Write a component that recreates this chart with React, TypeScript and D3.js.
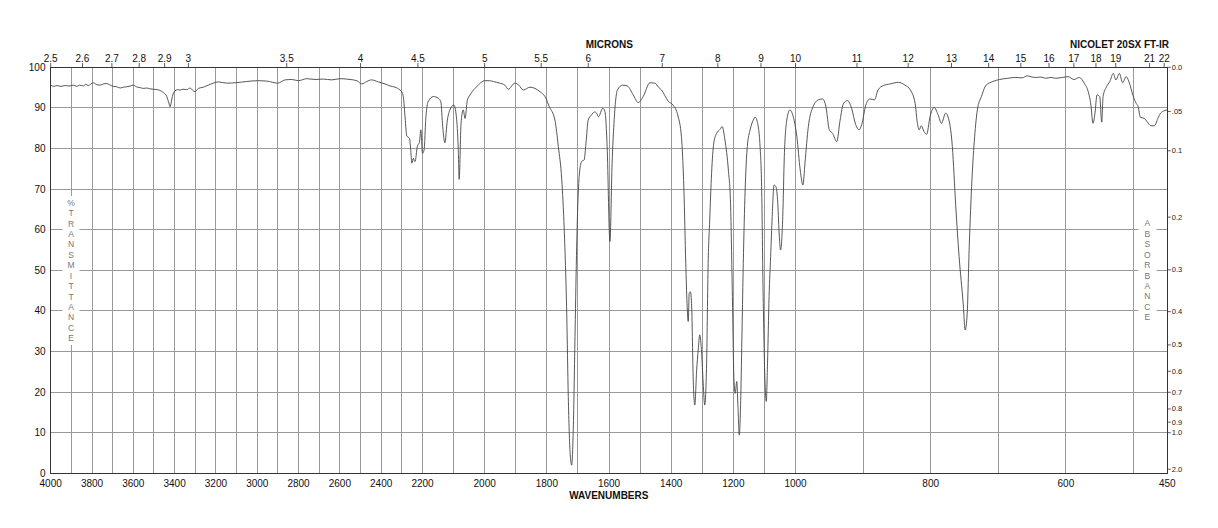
import React from "react";
import * as d3 from "d3";

// ---- Data ----
const wavenumbers: number[] = [
  4000, 3985, 3970, 3950, 3930, 3910, 3890, 3874, 3860, 3842, 3830, 3818, 3805, 3794, 3780, 3761, 3745, 3729, 3715, 3697,
  3680, 3664, 3648, 3632, 3615, 3600, 3585, 3568, 3550, 3535, 3520, 3503, 3485, 3471, 3455, 3438, 3428, 3422, 3416, 3411,
  3398, 3385, 3374, 3360, 3341, 3325, 3310, 3301, 3285, 3261, 3237, 3213, 3188, 3148, 3103, 3051, 3000, 2954, 2901, 2865,
  2833, 2801, 2760, 2720, 2680, 2639, 2599, 2551, 2518, 2494, 2470, 2446, 2414, 2381, 2357, 2333, 2309, 2297, 2293, 2284,
  2276, 2263, 2256, 2252, 2244, 2240, 2236, 2225, 2215, 2208, 2200, 2195, 2189, 2182, 2165, 2149, 2141, 2135, 2128, 2120,
  2112, 2099, 2091, 2085, 2082, 2076, 2069, 2063, 2056, 2047, 2026, 1999, 1985, 1972, 1952, 1935, 1924, 1903, 1890, 1876,
  1854, 1822, 1806, 1792, 1774, 1763, 1752, 1744, 1736, 1731, 1725, 1720, 1715, 1709, 1704, 1696, 1688, 1680, 1674, 1667,
  1656, 1646, 1640, 1634, 1620, 1613, 1606, 1597, 1590, 1584, 1573, 1556, 1541, 1522, 1506, 1490, 1468, 1452, 1441, 1431,
  1420, 1410, 1394, 1378, 1367, 1359, 1353, 1349, 1345, 1342, 1338, 1334, 1329, 1324, 1318, 1313, 1308, 1302, 1297, 1292,
  1286, 1281, 1276, 1270, 1263, 1254, 1243, 1236, 1227, 1216, 1209, 1203, 1198, 1194, 1189, 1185, 1181, 1176, 1172, 1168,
  1162, 1155, 1146, 1136, 1130, 1123, 1114, 1109, 1104, 1098, 1094, 1090, 1085, 1080, 1075, 1069, 1063, 1057, 1052, 1048,
  1041, 1036, 1028, 1018, 1009, 998, 993, 989, 986, 981, 974, 966, 960, 955, 950, 945, 939, 934, 929, 923,
  917, 911, 906, 902, 896, 890, 883, 878, 870, 860, 848, 838, 830, 823, 820, 817, 814, 810, 806, 801,
  795, 789, 784, 778, 773, 768, 763, 758, 752, 749, 746, 743, 739, 735, 731, 725, 718, 708, 698, 686,
  674, 665, 657, 650, 644, 637, 630, 622, 615, 605, 597, 588, 580, 573, 567, 563, 560, 557, 554, 550,
  547, 545, 540, 535, 530, 526, 521, 516, 511, 506, 501, 496, 493, 490, 484, 480, 474, 469, 464, 460,
  457, 450,
];
const transmittance: number[] = [
  95.6, 95.3, 95.5, 95.3, 95.5, 95.4, 95.6, 95.3, 95.6, 95.4, 95.8, 95.5, 95.9, 96.2, 95.8, 95.6, 95.9, 96.0, 95.7, 95.3,
  95.2, 94.9, 95.1, 95.2, 95.4, 95.6, 95.2, 95.0, 94.8, 94.9, 94.7, 94.6, 94.5, 94.3, 93.8, 92.8, 91.2, 90.3, 91.5, 92.8,
  94.2, 94.5, 94.4, 94.6, 94.5, 94.9, 94.2, 94.0, 94.8, 95.1, 95.6, 96.1, 96.4, 96.1, 96.2, 96.5, 96.7, 96.6, 96.1, 96.9,
  97.0, 96.7, 97.2, 97.0, 97.1, 96.9, 97.2, 97.0, 96.7, 95.9, 96.5, 96.9, 96.4, 95.9, 95.4, 95.1, 94.4, 93.6, 92.8, 87.5,
  83.1, 82.5, 79.0, 76.4, 77.6, 77.0, 76.8, 80.5, 81.5, 84.6, 78.8, 79.6, 87.8, 91.5, 92.8, 92.4, 91.5, 85.4, 81.4, 87.0,
  89.5, 90.7, 87.8, 80.0, 72.4, 86.2, 89.5, 87.4, 91.8, 93.2, 95.2, 96.7, 96.7, 96.5, 96.1, 95.6, 94.6, 96.1, 95.6, 94.4,
  95.1, 94.0, 92.8, 90.3, 87.0, 80.5, 72.3, 60.0, 39.4, 18.9, 4.9, 2.0, 10.7, 35.3, 55.8, 73.1, 76.8, 77.2, 81.3, 87.0,
  88.3, 89.0, 88.7, 87.8, 89.9, 89.1, 80.5, 57.1, 76.4, 86.2, 94.4, 95.6, 95.4, 93.2, 91.3, 92.8, 96.2, 96.1, 95.1, 94.4,
  93.0, 91.7, 90.7, 88.0, 82.9, 69.8, 51.7, 41.9, 37.4, 44.3, 44.7, 41.0, 23.0, 16.8, 25.4, 30.4, 34.1, 29.6, 22.2, 16.8,
  27.1, 51.7, 62.4, 73.9, 81.3, 83.7, 84.7, 85.4, 82.1, 74.7, 66.5, 43.5, 23.0, 19.7, 22.6, 16.4, 9.4, 18.9, 35.3, 51.7,
  69.8, 80.5, 84.6, 87.0, 87.7, 86.6, 80.5, 70.6, 43.5, 22.2, 17.7, 27.1, 43.5, 53.4, 63.2, 71.0, 70.6, 66.5, 58.3, 55.0,
  63.2, 78.0, 87.0, 89.5, 88.3, 82.9, 74.7, 71.0, 76.4, 85.4, 90.3, 92.0, 92.2, 90.3, 84.6, 83.7, 81.7, 87.0, 91.1, 91.8,
  89.9, 85.9, 84.6, 85.9, 90.7, 92.2, 92.0, 94.4, 95.5, 95.9, 96.3, 95.6, 94.4, 91.1, 86.6, 84.6, 85.6, 84.2, 83.5, 87.8,
  90.1, 88.3, 86.2, 88.7, 87.0, 80.5, 66.0, 53.4, 41.9, 35.3, 39.4, 55.8, 72.3, 82.9, 89.5, 92.8, 95.6, 96.5, 97.0, 97.3,
  97.5, 97.4, 97.9, 97.6, 97.5, 97.6, 97.3, 97.5, 97.3, 97.5, 97.7, 97.0, 97.5, 96.1, 94.0, 90.7, 86.2, 88.7, 93.2, 92.8,
  86.5, 92.8, 95.2, 96.5, 98.5, 96.9, 98.5, 96.2, 97.7, 96.1, 93.2, 91.1, 90.3, 87.7, 87.4, 86.6, 85.6, 85.6, 87.4, 88.7,
  89.1, 89.5,
];

const yTicks: number[] = [0, 10, 20, 30, 40, 50, 60, 70, 80, 90, 100];
const wnLabels: number[] = [4000, 3800, 3600, 3400, 3200, 3000, 2800, 2600, 2400, 2200, 2000, 1800, 1600, 1400, 1200, 1000, 800, 600, 450];
const wnGrid: number[] = [
  3900, 3800, 3700, 3600, 3500, 3400, 3300, 3200, 3100, 3000, 2900, 2800, 2700, 2600, 2500, 2400, 2300, 2200,
  2100, 2000, 1900, 1800, 1700, 1600, 1500, 1400, 1300, 1200, 1100, 1000, 900, 800, 700, 600, 500,
];
const microns: number[] = [2.5, 2.6, 2.7, 2.8, 2.9, 3, 3.5, 4, 4.5, 5, 5.5, 6, 7, 8, 9, 10, 11, 12, 13, 14, 15, 16, 17, 18, 19, 21, 22];
const absTicks: number[] = [0, 0.05, 0.1, 0.2, 0.3, 0.4, 0.5, 0.6, 0.7, 0.8, 0.9, 1.0, 2.0];
const absLabels: string[] = ["0.0", ".05", "0.1", "0.2", "0.3", "0.4", "0.5", "0.6", "0.7", "0.8", "0.9", "1.0", "2.0"];
const leftTitle = "%TRANSMITTANCE";
const rightTitle = "ABSORBANCE";

export default function App() {
  const W = 1218, H = 528;
  const L = 50.7, R = 1167.3, T = 67.3, B = 473.3;
  const x = d3.scaleLinear().domain([4000, 2200, 1000, 450]).range([L, 422.5, 795.5, R]);
  const y = d3.scaleLinear().domain([0, 100]).range([B, T]);
  const pts: [number, number][] = wavenumbers.map((w, i) => [w, transmittance[i]]);
  const line = d3.line<[number, number]>().x((d) => x(d[0])).y((d) => y(d[1])).curve(d3.curveMonotoneX);
  const font = "'Liberation Sans', Arial, Helvetica, sans-serif";
  const gridColor = "#9a9a9a";
  const axisColor = "#333";
  const leftX = 71, rightX = 1147.3;
  return (
    <svg width={W} height={H} style={{ position: "absolute", left: 0, top: 0, background: "#fff" }} fontFamily={font}>
      <rect x={0} y={0} width={W} height={H} fill="#fff" />
      {/* grid */}
      <g shapeRendering="crispEdges" stroke={gridColor} strokeWidth={1}>
        {yTicks.filter((t) => t > 0 && t < 100).map((t) => (
          <line key={"h" + t} x1={L} x2={R} y1={y(t)} y2={y(t)} />
        ))}
        {wnGrid.map((w) => (
          <line key={"v" + w} x1={x(w)} x2={x(w)} y1={T} y2={B} />
        ))}
      </g>
      {/* label backgrounds */}
      <rect x={62.5} y={196} width={17} height={149} fill="#fff" />
      <rect x={1138.5} y={216} width={18} height={108} fill="#fff" />
      {leftTitle.split("").map((c, i) => (
        <text key={"lt" + i} x={leftX} y={202.7 + i * 10.43} fontSize={8.5} fill="#777" textAnchor="middle" dominantBaseline="central">
          {c}
        </text>
      ))}
      {rightTitle.split("").map((c, i) => (
        <text key={"rt" + i} x={rightX} y={223.3 + i * 10.44} fontSize={8.5} fill="#777" textAnchor="middle" dominantBaseline="central">
          {c}
        </text>
      ))}
      {/* spectrum */}
      <path d={line(pts) || ""} fill="none" stroke="#444" strokeWidth={0.9} strokeLinejoin="round" />
      {/* frame */}
      <rect x={L} y={T} width={R - L} height={B - T} fill="none" stroke={axisColor} strokeWidth={1} shapeRendering="crispEdges" />
      {/* left labels */}
      {yTicks.map((t) => (
        <text key={"yl" + t} x={45.5} y={y(t)} fontSize={10} fill="#111" textAnchor="end" dominantBaseline="central">
          {t}
        </text>
      ))}
      {/* bottom labels */}
      {wnLabels.map((w) => (
        <text key={"xl" + w} x={x(w)} y={487} fontSize={10} fill="#111" textAnchor="middle">
          {w}
        </text>
      ))}
      {/* top micron ticks */}
      {microns.map((m) => (
        <g key={"m" + m}>
          <line x1={x(10000 / m)} x2={x(10000 / m)} y1={63} y2={T} stroke={axisColor} strokeWidth={0.8} />
          <text x={x(10000 / m)} y={61.5} fontSize={10} fill="#111" textAnchor="middle">
            {m}
          </text>
        </g>
      ))}
      {/* right absorbance ticks */}
      {absTicks.map((a, i) => {
        const yy = y(100 * Math.pow(10, -a));
        return (
          <g key={"a" + a}>
            <line x1={R} x2={R + 3.5} y1={yy} y2={yy} stroke={axisColor} strokeWidth={0.8} />
            <text x={R + 4.5} y={yy} fontSize={7.5} fill="#222" dominantBaseline="central">
              {absLabels[i]}
            </text>
          </g>
        );
      })}
      {/* titles */}
      <text x={609.3} y={48} fontSize={10} fontWeight="bold" textAnchor="middle" fill="#111">MICRONS</text>
      <text x={1169} y={48.3} fontSize={10} fontWeight="bold" textAnchor="end" fill="#111">NICOLET 20SX FT-IR</text>
      <text x={608.8} y={499.3} fontSize={10} fontWeight="bold" textAnchor="middle" fill="#111">WAVENUMBERS</text>
    </svg>
  );
}
